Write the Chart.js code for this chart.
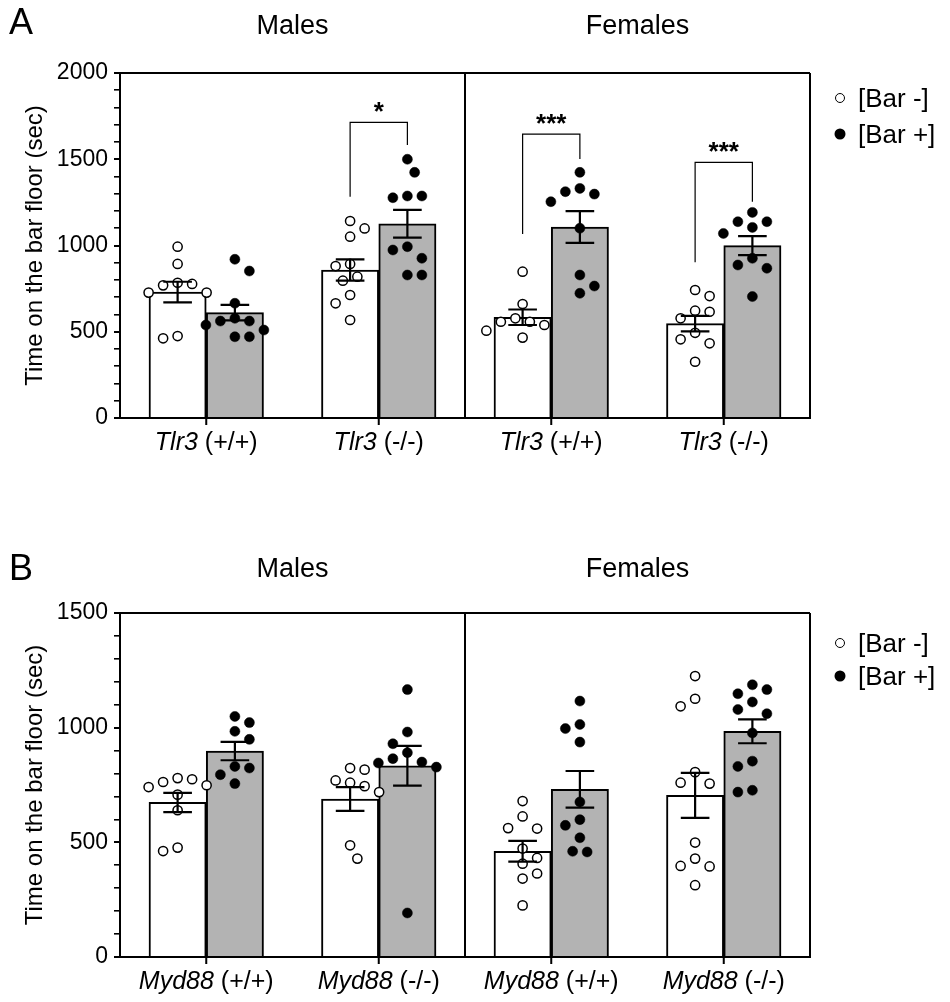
<!DOCTYPE html>
<html><head><meta charset="utf-8">
<script src="https://cdn.jsdelivr.net/npm/chart.js@4.4.1/dist/chart.umd.min.js"></script>
<style>
html,body{margin:0;padding:0;background:#fff;}
body{width:950px;height:1002px;position:relative;overflow:hidden;font-family:"Liberation Sans",Arial,sans-serif;color:#000;}
.host{position:absolute;left:0;width:950px;}
.host canvas{position:absolute;left:0;top:0;}
.lbl{position:absolute;white-space:nowrap;transform:translate(-50%,-50%);line-height:1;}
.leg{position:absolute;white-space:nowrap;line-height:1;font-size:26px;transform:translateY(-50%);}
.dot{position:absolute;width:11px;height:11px;border-radius:50%;box-sizing:border-box;transform:translate(-50%,-50%);}
.open{border:1.5px solid #000;background:#fff;width:10px;height:10px;}
.fill{background:#000;}
</style></head>
<body>
<div id="hostA" class="host" style="top:0;height:500px"><canvas id="chartA" width="950" height="500"></canvas></div>
<div id="hostB" class="host" style="top:500px;height:502px"><canvas id="chartB" width="950" height="502"></canvas></div>
<script>
// ---------- data ----------
const panelLetters = ['A', 'B'];
const sexes = ['Males', 'Females'];
const seriesNames = ['[Bar -]', '[Bar +]'];
const yTitle = 'Time on the bar floor (sec)';

// Panel A : Tlr3
const geneA = 'Tlr3';
const genotypesA = ['(+/+)', '(-/-)', '(+/+)', '(-/-)'];
const yTicksA = [0, 500, 1000, 1500, 2000];
const meanA_minus = [730, 858, 584, 547];
const semA_minus = [60, 62, 45, 45];
const meanA_plus = [611, 1126, 1107, 999];
const semA_plus = [45, 80, 92, 55];
const ptsA_minus = [
  [993, 893, 769, 784, 777, 727, 727, 462, 475],
  [1142, 1099, 1051, 893, 881, 819, 796, 713, 665, 568],
  [848, 661, 539, 558, 578, 558, 466, 506],
  [742, 707, 622, 616, 578, 494, 456, 433, 326]
];
const ptsA_plus = [
  [920, 852, 665, 539, 562, 562, 578, 510, 471, 471],
  [1500, 1424, 1287, 1287, 1277, 993, 974, 926, 829, 829],
  [1424, 1312, 1331, 1298, 1254, 1100, 829, 723, 765],
  [1192, 1138, 1138, 1105, 1070, 926, 868, 887, 704]
];
const sigA_cat = [1, 2, 3];
const sigA_top = [1714, 1646, 1482];
const sigA_leftEnd = [1283, 1067, 903];
const sigA_rightEnd = [1583, 1501, 1254];
const sigA_label = ['*', '***', '***'];

// Panel B : Myd88
const geneB = 'Myd88';
const genotypesB = ['(+/+)', '(-/-)', '(+/+)', '(-/-)'];
const yTicksB = [0, 500, 1000, 1500];
const meanB_minus = [674, 689, 461, 705];
const semB_minus = [42, 52, 45, 98];
const meanB_plus = [898, 834, 731, 984];
const semB_plus = [40, 87, 80, 52];
const ptsB_minus = [
  [741, 780, 763, 775, 749, 708, 640, 462, 477],
  [824, 817, 760, 770, 745, 719, 487, 429],
  [680, 613, 560, 562, 473, 432, 407, 364, 342, 225],
  [1225, 1093, 1126, 806, 756, 760, 499, 429, 397, 395, 313]
];
const ptsB_plus = [
  [1049, 1022, 984, 949, 831, 824, 795, 756],
  [1166, 981, 930, 865, 891, 846, 850, 828, 192],
  [1116, 996, 1014, 937, 676, 599, 574, 520, 458, 461],
  [1187, 1148, 1166, 1112, 1079, 1061, 977, 854, 831, 719, 727]
];
const sigB_cat = [];
const sigB_top = [];
const sigB_leftEnd = [];
const sigB_rightEnd = [];
const sigB_label = [];

// ---------- drawing ----------
Chart.defaults.font.family = '"Liberation Sans", Arial, sans-serif';
Chart.defaults.color = '#000';

const CAT_PCT = 0.664;
const HALF = CAT_PCT / 4;          // bar centre offset (category units)
const CAP = CAT_PCT / 8;           // half width of error-bar caps

function swarmOffsets(values, yPix, d) {
  const order = values.map((v, i) => i).sort((a, b) => values[b] - values[a]);
  const placed = [];
  const off = new Array(values.length).fill(0);
  order.forEach((i, n) => {
    const y = yPix(values[i]);
    const dir = n % 2 ? 1 : -1;
    let chosen = 0;
    for (let k = 0; k < 40; k++) {
      const cand = k === 0 ? 0 : (k % 2 ? dir : -dir) * Math.ceil(k / 2) * d / 2;
      if (placed.every(p => Math.hypot(p.x - cand, p.y - y) >= d)) { chosen = cand; break; }
    }
    placed.push({x: chosen, y});
    off[i] = chosen;
  });
  return off;
}

function addEl(host, cls, html, x, y, style) {
  const el = document.createElement('div');
  el.className = cls;
  el.innerHTML = html;
  el.style.left = x + 'px';
  el.style.top = y + 'px';
  if (style) Object.assign(el.style, style);
  host.appendChild(el);
  return el;
}

function buildPanel(cfg) {
  const host = document.getElementById(cfg.hostId);
  const mkPts = (pts, sign) => pts.flatMap((arr, i) => arr.map(v => ({x: i + sign * HALF, y: v})));
  const mkBars = (means, sign) => means.map((m, i) => ({x: i + sign * HALF, y: m}));

  const deco = {
    id: 'deco' + cfg.hostId,
    afterDatasetsDraw(chart) {
      const {ctx, chartArea: a, scales: {x, y}} = chart;
      ctx.save();
      ctx.strokeStyle = '#000';
      ctx.lineCap = 'butt';
      // error bars (mean ± SEM)
      ctx.lineWidth = 2.2;
      [[cfg.meanMinus, cfg.semMinus, -1], [cfg.meanPlus, cfg.semPlus, 1]].forEach(([m, s, sign]) => {
        m.forEach((mv, i) => {
          const cx = x.getPixelForValue(i + sign * HALF);
          const x0 = x.getPixelForValue(i + sign * HALF - CAP);
          const x1 = x.getPixelForValue(i + sign * HALF + CAP);
          const yt = y.getPixelForValue(mv + s[i]);
          const yb = y.getPixelForValue(mv - s[i]);
          ctx.beginPath();
          ctx.moveTo(cx, yt); ctx.lineTo(cx, yb);
          ctx.moveTo(x0, yt); ctx.lineTo(x1, yt);
          ctx.moveTo(x0, yb); ctx.lineTo(x1, yb);
          ctx.stroke();
        });
      });
      // frame: top, right, divider, category tick marks
      ctx.lineWidth = 2;
      ctx.beginPath();
      ctx.moveTo(a.left - 1, a.top); ctx.lineTo(a.right, a.top);
      ctx.moveTo(a.right, a.top); ctx.lineTo(a.right, a.bottom + 1);
      const dx = x.getPixelForValue(1.5);
      ctx.moveTo(dx, a.top); ctx.lineTo(dx, a.bottom + 1);
      cfg.genotypes.forEach((g, i) => {
        const tx = x.getPixelForValue(i);
        ctx.moveTo(tx, a.bottom); ctx.lineTo(tx, a.bottom + 7);
      });
      ctx.stroke();
      // significance brackets
      ctx.lineWidth = 1.2;
      cfg.sigCat.forEach((c, k) => {
        const xl = x.getPixelForValue(c - HALF);
        const xr = x.getPixelForValue(c + HALF);
        const yt = y.getPixelForValue(cfg.sigTop[k]);
        ctx.beginPath();
        ctx.moveTo(xl, y.getPixelForValue(cfg.sigLeft[k]));
        ctx.lineTo(xl, yt); ctx.lineTo(xr, yt);
        ctx.lineTo(xr, y.getPixelForValue(cfg.sigRight[k]));
        ctx.stroke();
      });
      ctx.restore();
    }
  };

  const chart = new Chart(document.getElementById(cfg.canvasId), {
    type: 'bar',
    data: {
      datasets: [
        {type: 'scatter', label: seriesNames[0], data: mkPts(cfg.ptsMinus, -1),
         pointRadius: 4.6, pointBorderWidth: 1.5, pointBackgroundColor: '#fff', pointBorderColor: '#000', order: 1},
        {type: 'scatter', label: seriesNames[1], data: mkPts(cfg.ptsPlus, 1),
         pointRadius: 5, pointBorderWidth: 0.5, pointBackgroundColor: '#000', pointBorderColor: '#000', order: 1},
        {type: 'bar', label: seriesNames[0], data: mkBars(cfg.meanMinus, -1), grouped: false,
         backgroundColor: '#ffffff', borderColor: '#000', borderWidth: 2, barPercentage: 1, categoryPercentage: 1, order: 2},
        {type: 'bar', label: seriesNames[1], data: mkBars(cfg.meanPlus, 1), grouped: false,
         backgroundColor: '#b3b3b3', borderColor: '#000', borderWidth: 2, barPercentage: 1, categoryPercentage: 1, order: 2}
      ]
    },
    options: {
      responsive: false,
      animation: false,
      devicePixelRatio: 1,
      layout: {padding: {top: cfg.padTop, right: 140, left: 0, bottom: 0}},
      plugins: {legend: {display: false}, tooltip: {enabled: false}},
      scales: {
        x: {
          type: 'linear', min: -0.5, max: 3.5, offset: false,
          afterBuildTicks(s) { s.ticks = cfg.genotypes.map((g, i) => ({value: i})); },
          grid: {display: false},
          border: {display: true, color: '#000', width: 2},
          ticks: {display: false},
          afterFit(s) { s.height = cfg.xHeight; }
        },
        y: {
          type: 'linear', min: 0, max: cfg.yMax,
          ticks: {stepSize: 100, autoSkip: false, padding: 6, font: {size: 23},
                  callback: v => cfg.yTicks.includes(v) ? String(v) : ''},
          grid: {display: true, drawOnChartArea: false, drawTicks: true, tickLength: 6, color: '#000',
                 lineWidth: c => (c.tick && cfg.yTicks.includes(c.tick.value)) ? 2 : 1.6},
          border: {display: true, color: '#000', width: 2},
          title: {display: true, text: yTitle, font: {size: 24}, padding: {top: 21, bottom: 0}},
          afterFit(s) { s.width = 120; }
        }
      }
    },
    plugins: [deco]
  });

  // beeswarm spread of the individual points
  const y = chart.scales.y, x = chart.scales.x;
  const pxPerUnit = x.getPixelForValue(1) - x.getPixelForValue(0);
  const spread = (pts, sign) => pts.flatMap((arr, i) => {
    const off = swarmOffsets(arr, v => y.getPixelForValue(v), 14.5);
    return arr.map((v, j) => ({x: i + sign * HALF + off[j] / pxPerUnit, y: v}));
  });
  chart.data.datasets[0].data = spread(cfg.ptsMinus, -1);
  chart.data.datasets[1].data = spread(cfg.ptsPlus, 1);
  chart.update('none');

  // text overlays
  const a = chart.chartArea;
  const dx = x.getPixelForValue(1.5);
  addEl(host, 'lbl', cfg.letter, 21, cfg.letterY, {fontSize: '36px'});
  addEl(host, 'lbl', sexes[0], (a.left + dx) / 2, cfg.titleY, {fontSize: '27px'});
  addEl(host, 'lbl', sexes[1], (dx + a.right) / 2, cfg.titleY, {fontSize: '27px'});
  cfg.genotypes.forEach((g, i) => {
    addEl(host, 'lbl', '<i>' + cfg.gene + '</i> ' + g, x.getPixelForValue(i), a.bottom + 23, {fontSize: '25px'});
  });
  cfg.sigCat.forEach((c, k) => {
    addEl(host, 'lbl', cfg.sigLabel[k], x.getPixelForValue(c), y.getPixelForValue(cfg.sigTop[k]) - 11,
          {fontSize: '26px', fontWeight: 'bold'});
  });
  // legend
  cfg.legendY.forEach((ly, k) => {
    addEl(host, 'dot ' + (k === 0 ? 'open' : 'fill'), '', 840, ly);
    addEl(host, 'leg', seriesNames[k], 858, ly);
  });
  return chart;
}

buildPanel({
  hostId: 'hostA', canvasId: 'chartA', letter: panelLetters[0], letterY: 22, titleY: 25,
  gene: geneA, genotypes: genotypesA, yTicks: yTicksA, yMax: 2000,
  meanMinus: meanA_minus, semMinus: semA_minus, meanPlus: meanA_plus, semPlus: semA_plus,
  ptsMinus: ptsA_minus, ptsPlus: ptsA_plus,
  sigCat: sigA_cat, sigTop: sigA_top, sigLeft: sigA_leftEnd, sigRight: sigA_rightEnd, sigLabel: sigA_label,
  padTop: 73, xHeight: 82, legendY: [98, 134]
});
buildPanel({
  hostId: 'hostB', canvasId: 'chartB', letter: panelLetters[1], letterY: 68, titleY: 68,
  gene: geneB, genotypes: genotypesB, yTicks: yTicksB, yMax: 1500,
  meanMinus: meanB_minus, semMinus: semB_minus, meanPlus: meanB_plus, semPlus: semB_plus,
  ptsMinus: ptsB_minus, ptsPlus: ptsB_plus,
  sigCat: sigB_cat, sigTop: sigB_top, sigLeft: sigB_leftEnd, sigRight: sigB_rightEnd, sigLabel: sigB_label,
  padTop: 113, xHeight: 45, legendY: [143, 176]
});
</script>
</body></html>
